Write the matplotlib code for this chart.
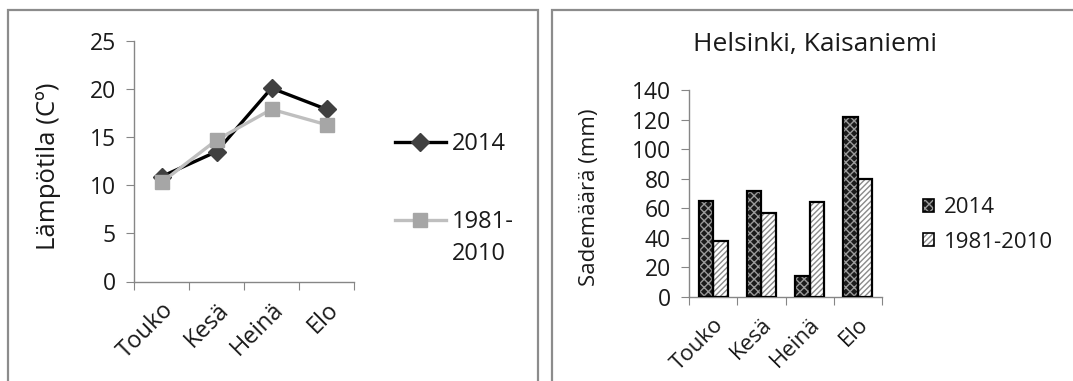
import matplotlib
matplotlib.use("Agg")
import matplotlib.pyplot as plt
from matplotlib.patches import Rectangle, Patch
import numpy as np

plt.rcParams['font.family'] = ['Open Sans', 'DejaVu Sans']
plt.rcParams['hatch.linewidth'] = 1.0

# kuukaudet ja sarjat
kuukaudet = ['Touko', 'Kesä', 'Heinä', 'Elo']
sarjat = ['2014', '1981-2010']
lampo_2014 = [10.9, 13.5, 20.1, 17.9]
lampo_normaali = [10.3, 14.7, 17.9, 16.3]
sade_2014 = [65, 72, 14, 122]
sade_normaali = [38, 57, 64, 80]
lampo_ticks = [0, 5, 10, 15, 20, 25]
sade_ticks = [0, 20, 40, 60, 80, 100, 120, 140]

W, H = 1073, 381
fig = plt.figure(figsize=(W / 100, H / 100), dpi=100)
fig.patch.set_facecolor('white')

akseli = '#868686'
teksti = '#1a1a1a'

# kehykset kummankin kaavion ympärille
fig.add_artist(Rectangle((8 / W, -0.1), 530 / W, 1.1 - 10 / H, transform=fig.transFigure,
                         fill=False, edgecolor='#8c8c8c', lw=1.6))
fig.add_artist(Rectangle((552 / W, -0.1), 0.6, 1.1 - 10 / H, transform=fig.transFigure,
                         fill=False, edgecolor='#8c8c8c', lw=1.6))


def muotoile(ax, ymax, ticks, fs, xfs):
    x = np.arange(len(kuukaudet))
    ax.set_xlim(-0.5, len(kuukaudet) - 0.5)
    ax.set_ylim(0, ymax)
    for s in ['top', 'right']:
        ax.spines[s].set_visible(False)
    for s in ['left', 'bottom']:
        ax.spines[s].set_color(akseli)
        ax.spines[s].set_linewidth(1.0)
    ax.set_yticks(ticks)
    ax.tick_params(axis='y', length=6, color=akseli, labelsize=fs, pad=7,
                   labelcolor=teksti)
    ax.set_xticks(np.arange(len(kuukaudet) + 1) - 0.5)
    ax.set_xticklabels([])
    ax.tick_params(axis='x', which='major', length=6, color=akseli)
    ax.set_xticks(x, minor=True)
    ax.set_xticklabels(kuukaudet, minor=True, rotation=45, ha='right',
                       rotation_mode='anchor', fontsize=xfs, color=teksti)
    ax.tick_params(axis='x', which='minor', length=0, pad=12)


# lämpötilat, viivakaavio
ax1 = fig.add_axes([134 / W, 1 - 281.5 / H, 220 / W, 240.5 / H])
x = np.arange(len(kuukaudet))
ax1.plot(x, lampo_2014, color='black', lw=2.4, marker='D', markersize=9,
         markerfacecolor='#404040', markeredgecolor='#404040', label=sarjat[0], zorder=3)
ax1.plot(x, lampo_normaali, color='#bfbfbf', lw=2.4, marker='s', markersize=10,
         markerfacecolor='#a6a6a6', markeredgecolor='#a6a6a6', label='1981-', zorder=4)
muotoile(ax1, 25, lampo_ticks, 16.5, 17)
ax1.set_ylabel('Lämpötila (Cº)', fontsize=18.5, color=teksti)
ax1.yaxis.set_label_coords(-0.33, 0.48)
ax1.legend(loc='center left', bbox_to_anchor=(395 / W, 1 - 183 / H),
           bbox_transform=fig.transFigure, frameon=False, fontsize=17,
           handlelength=2.15, handletextpad=0.25, labelspacing=2.3, borderpad=0,
           borderaxespad=0, labelcolor=teksti)
# vuosijakson loppuosa toiselle riville
fig.text(452 / W, 1 - 254 / H, '2010', fontsize=17, color=teksti, va='center', ha='left')

# sademäärät, pylväskaavio
ax2 = fig.add_axes([689 / W, 1 - 297 / H, 193 / W, 207 / H])
lev = 0.30
tumma = dict(facecolor='#1a1a1a', edgecolor='#9a9a9a', hatch='xxxx', lw=0)
vaalea = dict(facecolor='white', edgecolor='#8a8a8a', hatch='//////', lw=0)
ax2.bar(x - lev / 2, sade_2014, lev, zorder=2, **tumma)
ax2.bar(x + lev / 2, sade_normaali, lev, zorder=2, **vaalea)
ax2.bar(x - lev / 2, sade_2014, lev, fill=False, edgecolor='black', lw=1.6, zorder=3)
ax2.bar(x + lev / 2, sade_normaali, lev, fill=False, edgecolor='black', lw=1.6, zorder=3)
muotoile(ax2, 140, sade_ticks, 16.5, 16)
ax2.set_ylabel('Sademäärä (mm)', fontsize=16, color=teksti)
ax2.yaxis.set_label_coords(-0.46, 0.483)
fig.text(815 / W, 1 - 45 / H, 'Helsinki, Kaisaniemi', fontsize=19, color=teksti,
         ha='center', va='center')

reuna = dict(fill=False, edgecolor='black', lw=1.2)
kahvat = [(Patch(**tumma), Patch(**reuna)), (Patch(**vaalea), Patch(**reuna))]
ax2.legend(kahvat, sarjat, loc='center left', bbox_to_anchor=(923 / W, 1 - 225 / H),
           bbox_transform=fig.transFigure, frameon=False, fontsize=16,
           handlelength=0.5, handleheight=0.5, handletextpad=0.45, labelspacing=0.6,
           borderpad=0, borderaxespad=0, labelcolor=teksti)

fig.savefig('out.png', dpi=100)
